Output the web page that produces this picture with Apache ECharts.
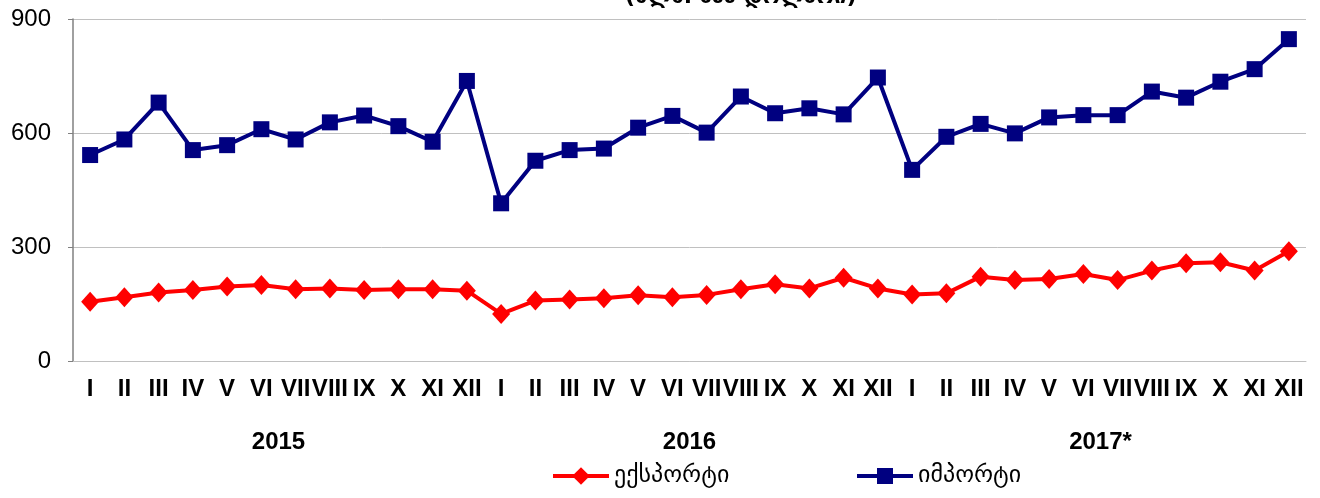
<!DOCTYPE html>
<html>
<head>
<meta charset="utf-8">
<script src="https://cdn.jsdelivr.net/npm/echarts@6/dist/echarts.min.js"></script>
<style>html,body{margin:0;padding:0;background:#fff}#c{width:1320px;height:498px}</style>
</head>
<body>
<div id="c"></div>
<script>
var months = ['I','II','III','IV','V','VI','VII','VIII','IX','X','XI','XII'];
var years = ['2015','2016','2017*'];
var categories = [].concat(months, months, months);
var exportVals = [156,168,180,187,196,200,189,191,187,189,189,185,
                  124,159,162,165,173,168,174,189,202,191,219,191,
                  175,178,222,213,216,229,213,238,257,260,238,289];
var importVals = [542,583,680,555,568,610,583,628,646,618,577,737,
                  415,527,555,559,614,645,601,696,652,665,649,746,
                  503,590,624,599,641,647,647,709,693,735,768,847];
var yTicks = [0,300,600,900];
var exportName = 'ექსპორტი';
var importName = 'იმპორტი';
var titleText = '(მლნ. აშშ დოლარი)';

var legendText = {fontFamily: 'DejaVu Sans', fontSize: 24, color: '#000'};
var chart = echarts.init(document.getElementById('c'));
chart.setOption({
  animation: false,
  backgroundColor: '#fff',
  title: {
    text: titleText, left: 620, top: -19,
    textStyle: {fontFamily: 'DejaVu Sans', fontWeight: 'bold', fontSize: 22, color: '#000'}
  },
  grid: {left: 73, right: 14, top: 19, bottom: 137},
  legend: [
    {data: [exportName], left: 546, top: 459, itemWidth: 56, itemHeight: 22, itemGap: 4,
     lineStyle: {width: 4}, textStyle: legendText},
    {data: [importName], left: 850, top: 459, itemWidth: 56, itemHeight: 20, itemGap: 4,
     lineStyle: {width: 4}, textStyle: legendText}
  ],
  xAxis: [
    {type: 'category', data: categories, boundaryGap: true,
     axisLine: {lineStyle: {color: '#c0c0c0', width: 1}},
     axisTick: {show: false},
     axisLabel: {interval: 0, margin: 16, color: '#000', fontFamily: 'Liberation Sans', fontWeight: 'bold', fontSize: 24}},
    {type: 'category', data: years, position: 'bottom', offset: 55, gridIndex: 0,
     axisLine: {show: false}, axisTick: {show: false},
     axisLabel: {interval: 0, margin: 14, color: '#000', fontFamily: 'Liberation Sans', fontWeight: 'bold', fontSize: 24}}
  ],
  yAxis: {
    type: 'value', min: yTicks[0], max: yTicks[yTicks.length-1], interval: 300,
    axisLine: {show: true, lineStyle: {color: '#808080', width: 1.5}},
    axisTick: {show: true, length: 5, lineStyle: {color: '#808080'}},
    splitLine: {lineStyle: {color: '#c0c0c0', width: 1}},
    axisLabel: {margin: 22, color: '#000', fontFamily: 'Liberation Sans', fontSize: 24}
  },
  series: [
    {name: exportName, type: 'line', data: exportVals, xAxisIndex: 0,
     symbol: 'diamond', symbolSize: [18, 20], color: '#ff0000',
     lineStyle: {width: 4, color: '#ff0000'}, itemStyle: {color: '#ff0000'}},
    {name: importName, type: 'line', data: importVals, xAxisIndex: 0,
     symbol: 'rect', symbolSize: 16, color: '#000080',
     lineStyle: {width: 4, color: '#000080'}, itemStyle: {color: '#000080'}}
  ]
});
</script>
</body>
</html>
